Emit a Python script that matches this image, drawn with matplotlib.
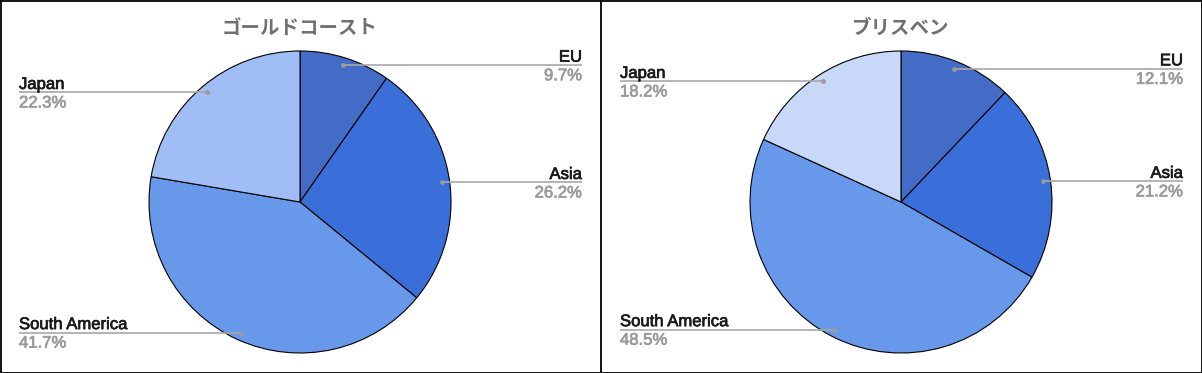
import matplotlib
matplotlib.use("Agg")
import matplotlib.pyplot as plt
from matplotlib.lines import Line2D
import matplotlib.patheffects as pe
import numpy as np

titles = ["ゴールドコースト", "ブリスベン"]
categories = ["EU", "Asia", "South America", "Japan"]
gold_coast = [9.7, 26.2, 41.7, 22.3]
brisbane = [12.1, 21.2, 48.5, 18.2]
series = [gold_coast, brisbane]
colors_gc = ["#426cc6", "#3a6ed9", "#6898ea", "#a0bdf5"]
colors_br = ["#426cc6", "#3a6ed9", "#6898ea", "#c8d8f8"]
palettes = [colors_gc, colors_br]

W, H = 1202, 373
fig = plt.figure(figsize=(W / 100, H / 100), dpi=100)

R = 151.0  # pie radius in px
cx, cy_top = 300.0, 202.0
panel_w = 601.0
label_left = 19.0
label_right = 582.0

name_fx = [pe.withStroke(linewidth=0.5, foreground="#1a1a1a")]
pct_fx = [pe.withStroke(linewidth=0.5, foreground="#9a9a9a")]

for i in range(2):
    ax = fig.add_axes([i * panel_w / W, 0, panel_w / W, 1])
    ax.set_axis_off()
    vals = series[i]
    wedges, _ = ax.pie(vals, colors=palettes[i], startangle=90, counterclock=False,
                       wedgeprops=dict(edgecolor="black", linewidth=0.8))
    ax.set_aspect("auto")
    ax.set_xlim(-cx / R, (panel_w - cx) / R)
    ax.set_ylim(-(H - cy_top) / R, cy_top / R)
    xl = (label_left - cx) / R
    xr = (label_right - cx) / R
    total = sum(vals)
    for w, name, v in zip(wedges, categories, vals):
        mid = np.deg2rad((w.theta1 + w.theta2) / 2)
        dx, dy = 0.95 * np.cos(mid), 0.95 * np.sin(mid)
        if dx >= 0:
            x_end, ha = xr, "right"
        else:
            x_end, ha = xl, "left"
        ax.plot([dx, x_end], [dy, dy], color="#a8a8a8", lw=1.2, solid_capstyle="butt", zorder=3)
        ax.plot([dx], [dy], "o", color="#9a9a9a", ms=3.5, mec="none", zorder=4)
        ax.annotate(name, (x_end, dy), xytext=(0, 2.5), textcoords="offset points",
                    ha=ha, va="baseline", fontsize=12, fontweight="normal",
                    color="#1a1a1a", family=["Liberation Sans", "DejaVu Sans"],
                    path_effects=name_fx)
        ax.annotate(f"{v / total * 100:.1f}%", (x_end, dy), xytext=(0, -2.2),
                    textcoords="offset points", ha=ha, va="top", fontsize=12,
                    fontweight="normal", color="#9a9a9a",
                    family=["Liberation Sans", "DejaVu Sans"], path_effects=pct_fx)
    fig.text((i * panel_w + cx) / W, 1 - 28 / H, titles[i], ha="center", va="center",
             fontsize=14, fontweight="bold", color="#707070",
             family=["Noto Sans CJK JP", "DejaVu Sans"])

# panel borders
def fline(xs, ys):
    fig.add_artist(Line2D([x / W for x in xs], [1 - y / H for y in ys], color="black",
                          lw=1.3, transform=fig.transFigure))

fline([0.5, 1201.5], [0.5, 0.5])
fline([0.5, 1201.5], [372.5, 372.5])
fline([0.5, 0.5], [0, 373])
fline([1201.5, 1201.5], [0, 373])
fline([600.5, 600.5], [0, 373])

fig.savefig("out.png", dpi=100)
